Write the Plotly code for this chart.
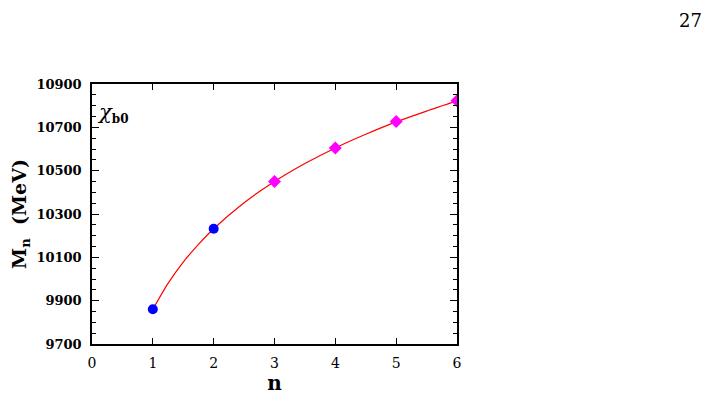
import plotly.graph_objects as go

n_exp = [1, 2]
m_exp = [9860, 10232]
n_pred = [3, 4, 5, 6]
m_pred = [10450, 10605, 10727, 10823]

# points along the red fit curve
n_curve = [1, 1.25, 1.5, 1.75, 2, 2.5, 3, 3.5, 4, 4.5, 5, 5.5, 6]
m_curve = [9860, 9980, 10078, 10160, 10232, 10352, 10450, 10533, 10605, 10668, 10725, 10775, 10822]

x_ticks = [0, 1, 2, 3, 4, 5, 6]
y_ticks = [9700, 9900, 10100, 10300, 10500, 10700, 10900]
y_labels = [str(v) for v in y_ticks]

serif = "DejaVu Serif"

fig = go.Figure()

fig.add_trace(go.Scatter(
    x=n_curve, y=m_curve, mode="lines",
    line=dict(color="red", width=1.2, shape="spline", smoothing=0.8),
    showlegend=False, hoverinfo="skip"
))
fig.add_trace(go.Scatter(
    x=n_exp, y=m_exp, mode="markers",
    marker=dict(symbol="circle", size=10, color="blue"),
    showlegend=False
))
fig.add_trace(go.Scatter(
    x=n_pred, y=m_pred, mode="markers",
    marker=dict(symbol="diamond", size=10, color="magenta"),
    showlegend=False
))

axis_common = dict(
    showgrid=False, zeroline=False, showline=True, linecolor="black",
    linewidth=1.5, mirror="allticks", ticks="inside", tickcolor="black",
    automargin=False,
)

fig.update_xaxes(
    range=[0, 6], tickvals=x_ticks, ticklen=6, tickwidth=1.3,
    tickfont=dict(family=serif, size=14, color="black"), ticklabelstandoff=5,
    title=dict(text="<b>n</b>", font=dict(family=serif, size=20, color="black"),
               standoff=2),
    **axis_common
)
fig.update_yaxes(
    range=[9700, 10900], tickvals=y_ticks, ticktext=y_labels, ticklen=7, tickwidth=1.3,
    tickfont=dict(family=serif, size=13, color="black", weight="bold"), ticklabelstandoff=6,
    minor=dict(dtick=50, ticks="inside", ticklen=4, tickcolor="black", tickwidth=1),
    title=dict(text="<b>M<sub>n</sub>  (MeV)</b>",
               font=dict(family=serif, size=19, color="black"), standoff=8),
    **axis_common
)

fig.add_annotation(
    x=0.05, y=10765, xref="x", yref="y", xanchor="left", yanchor="middle",
    text="<i>χ</i><sub><span style='font-size:12px'><b>b0</b></span></sub>", showarrow=False,
    font=dict(family=serif, size=21, color="black")
)

# page is drawn with an 8 px body offset, so the figure is a bit smaller
W, H = 703, 406
L, R, T, B = 84, 254, 76, 70
fig.add_annotation(
    x=(696 - L) / (W - L - R), y=1 + (T - 12) / (H - T - B),
    xref="paper", yref="paper", showarrow=False,
    text="27", font=dict(family=serif, size=18, color="black"),
    xanchor="right", yanchor="middle"
)

fig.update_layout(
    width=W, height=H,
    margin=dict(l=L, r=R, t=T, b=B),
    plot_bgcolor="white", paper_bgcolor="white",
    font=dict(family=serif, color="black"),
)

fig.write_html("out.html")
